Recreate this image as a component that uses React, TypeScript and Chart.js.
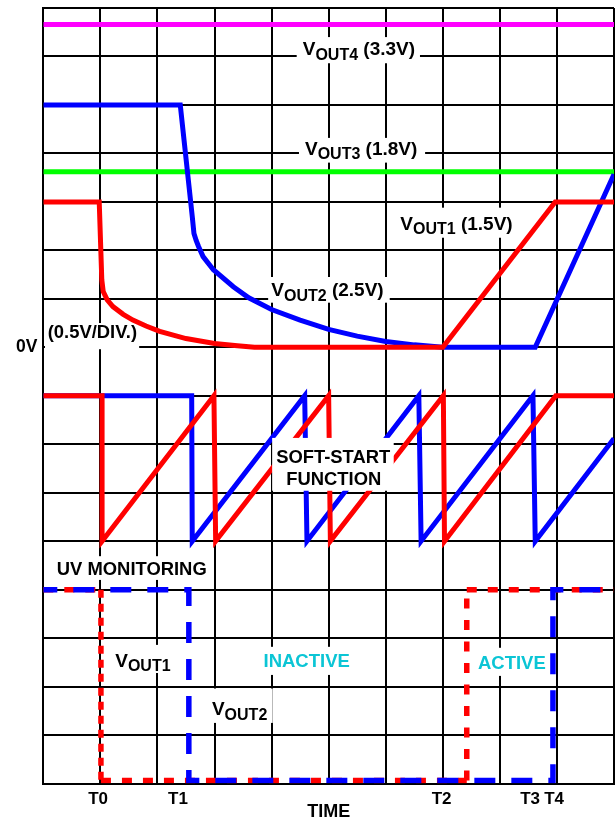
import { useEffect, useRef } from 'react';
import { Chart, registerables } from 'chart.js';

Chart.register(...registerables);

// x: time in grid divisions (0..10); y: screen divisions from the bottom (0..16).
// Voltage traces: 0V at division 9, 0.5V/div.  Soft-start: 5..8.  UV monitoring: 0..4.
const vout4X = [0, 10];
const vout4Y = [15.66, 15.66];
const vout3X = [0, 10];
const vout3Y = [12.62, 12.62];
const vout2X = [0, 2.4, 2.61, 2.64, 2.68, 2.72, 2.8, 2.98, 3.33, 3.6, 4.0, 4.5, 5.0, 5.5, 6.0, 6.5, 7.0, 8.62, 10];
const vout2Y = [14, 14, 11.7, 11.35, 11.2, 11.08, 10.87, 10.6, 10.25, 10.02, 9.78, 9.56, 9.37, 9.23, 9.12, 9.05, 9.0, 9.0, 12.57];
const vout1X = [0, 0.98, 1.025, 1.05, 1.12, 1.22, 1.4, 1.57, 1.8, 2.04, 2.5, 3.0, 3.4, 3.7, 7.0, 8.97, 10];
const vout1Y = [12, 12, 10.39, 10.15, 9.98, 9.84, 9.68, 9.56, 9.44, 9.33, 9.18, 9.08, 9.03, 9.0, 9.0, 12, 12];
const ss1X = [0, 1.03, 1.03, 2.99, 3.02, 5.0, 5.03, 7.01, 7.03, 8.98, 10];
const ss1Y = [8, 8, 5, 8, 5, 8, 5, 8, 5, 8, 8];
const ss2X = [0, 2.6, 2.61, 4.58, 4.62, 6.58, 6.62, 8.58, 8.62, 10];
const ss2Y = [8, 8, 5, 8, 5, 8, 5, 8, 5, 7.12];
const uv1X = [0, 1.01, 1.01, 7.42, 7.42, 10];
const uv1Y = [4, 4, 0.06, 0.06, 4, 4];
const uv2X = [0, 2.55, 2.55, 8.93, 8.93, 10];
const uv2Y = [4, 4, 0.06, 0.06, 4, 4];

const timeTickValues = [0.96, 2.36, 6.98, 8.53, 8.95];
const timeTickLabels = ['T0', 'T1', 'T2', 'T3', 'T4'];
const zeroVoltTick = 9;

const FAMILY = "'Liberation Sans', Arial, Helvetica, sans-serif";
const CYAN = '#0BC5D5';

type Part = [string, number];
const labelTexts: { parts: Part[]; x: number; y: number; size?: number; color?: string; above?: boolean }[] = [
  { parts: [['V', 0], ['OUT4', 1], [' (3.3V)', 0]], x: 5.53, y: 15.03 },
  { parts: [['V', 0], ['OUT3', 1], [' (1.8V)', 0]], x: 5.57, y: 12.97 },
  { parts: [['V', 0], ['OUT1', 1], [' (1.5V)', 0]], x: 7.24, y: 11.42 },
  { parts: [['V', 0], ['OUT2', 1], [' (2.5V)', 0]], x: 4.98, y: 10.05 },
  { parts: [['(0.5V/DIV.)', 0]], x: 0.86, y: 9.2, size: 18.4 },
  { parts: [['SOFT-START', 0]], x: 5.08, y: 6.61, size: 18.4, above: true },
  { parts: [['FUNCTION', 0]], x: 5.09, y: 6.16, size: 18.4, above: true },
  { parts: [['UV MONITORING', 0]], x: 1.55, y: 4.3, size: 18.4 },
  { parts: [['V', 0], ['OUT1', 1]], x: 1.745, y: 2.41 },
  { parts: [['V', 0], ['OUT2', 1]], x: 3.44, y: 1.41 },
  { parts: [['INACTIVE', 0]], x: 4.615, y: 2.41, size: 18.5, color: CYAN },
  { parts: [['ACTIVE', 0]], x: 8.21, y: 2.37, size: 18.5, color: CYAN },
];

const labelBoxes: { x0: number; x1: number; y0: number; y1: number; above?: boolean }[] = [
  { x0: 4.44, x1: 6.6, y0: 14.86, y1: 15.4 },
  { x0: 4.48, x1: 6.69, y0: 12.81, y1: 13.32 },
  { x0: 6.16, x1: 8.35, y0: 11.26, y1: 11.88 },
  { x0: 3.94, x1: 6.07, y0: 9.92, y1: 10.45 },
  { x0: 0.03, x1: 1.68, y0: 8.96, y1: 9.5 },
  { x0: 4.01, x1: 6.14, y0: 6.04, y1: 7.13, above: true },
  { x0: 0.12, x1: 2.92, y0: 4.2, y1: 4.69 },
  { x0: 1.17, x1: 2.33, y0: 2.28, y1: 2.86 },
  { x0: 2.87, x1: 4.02, y0: 1.25, y1: 1.96 },
  { x0: 3.8, x1: 5.48, y0: 2.24, y1: 2.82 },
  { x0: 7.53, x1: 8.88, y0: 2.22, y1: 2.8 },
];

const pts = (xs: number[], ys: number[]) => xs.map((x, i) => ({ x, y: ys[i] }));
const isInt = (v: number) => Math.abs(v - Math.round(v)) < 1e-6;

function drawLabels(chart: any, above: boolean) {
  const { ctx } = chart;
  const xs = chart.scales.x;
  const ys = chart.scales.y;
  ctx.save();
  ctx.fillStyle = '#fff';
  for (const b of labelBoxes) {
    if (!!b.above !== above) continue;
    const x0 = xs.getPixelForValue(b.x0);
    const x1 = xs.getPixelForValue(b.x1);
    const y0 = ys.getPixelForValue(b.y1);
    const y1 = ys.getPixelForValue(b.y0);
    ctx.fillRect(x0, y0, x1 - x0, y1 - y0);
  }
  ctx.textBaseline = 'alphabetic';
  ctx.textAlign = 'left';
  for (const t of labelTexts) {
    if (!!t.above !== above) continue;
    const main = t.size ?? 19;
    const sub = 16;
    const widths: number[] = [];
    let total = 0;
    for (const [s, isSub] of t.parts) {
      ctx.font = `bold ${isSub ? sub : main}px ${FAMILY}`;
      const w = ctx.measureText(s).width;
      widths.push(w);
      total += w;
    }
    let px = xs.getPixelForValue(t.x) - total / 2;
    const py = ys.getPixelForValue(t.y);
    ctx.fillStyle = t.color ?? '#000';
    t.parts.forEach(([s, isSub], i) => {
      ctx.font = `bold ${isSub ? sub : main}px ${FAMILY}`;
      ctx.fillText(s, px, py + (isSub ? 4.5 : 0));
      px += widths[i];
    });
  }
  ctx.restore();
}

const labelPlugin = {
  id: 'diagramLabels',
  beforeDatasetsDraw(chart: any) {
    drawLabels(chart, false);
  },
  afterDatasetsDraw(chart: any) {
    drawLabels(chart, true);
  },
};

const solid = (data: any, color: string, order: number) => ({
  data,
  borderColor: color,
  borderWidth: 5,
  pointRadius: 0,
  fill: false,
  tension: 0,
  order,
});

const noPad = (s: any) => {
  s.paddingTop = 0;
  s.paddingBottom = 0;
  s.paddingLeft = 0;
  s.paddingRight = 0;
};

export default function App() {
  const ref = useRef<HTMLCanvasElement>(null);
  useEffect(() => {
    if (!ref.current) return;
    const chart = new Chart(ref.current, {
      type: 'line',
      data: {
        datasets: [
          solid(pts(vout4X, vout4Y), '#FF00FF', 4),
          solid(pts(vout3X, vout3Y), '#00FF00', 3),
          solid(pts(vout2X, vout2Y), '#0000FF', 2),
          solid(pts(vout1X, vout1Y), '#FF0000', 1),
          solid(pts(ss2X, ss2Y), '#0000FF', 2),
          solid(pts(ss1X, ss1Y), '#FF0000', 1),
          {
            ...solid(pts(uv1X, uv1Y), '#FF0000', 1),
            borderWidth: 5.5,
            borderDash: [10, 11],
            segment: {
              borderDash: (c: any) => (c.p0DataIndex === 1 ? [8, 6] : c.p0DataIndex === 3 ? [10, 11.5] : undefined),
            },
          },
          {
            ...solid(pts(uv2X, uv2Y), '#0000FF', 0),
            borderWidth: 5.5,
            borderDash: [21, 16],
            borderDashOffset: 7,
          },
        ] as any,
      },
      options: {
        responsive: false,
        animation: false,
        devicePixelRatio: 1,
        events: [],
        layout: { padding: { top: 8, right: 2, left: 0, bottom: 0 } },
        plugins: { legend: { display: false }, tooltip: { enabled: false } },
        scales: {
          x: {
            type: 'linear',
            min: 0,
            max: 10,
            afterBuildTicks: (s: any) => {
              const vals: number[] = [];
              for (let i = 0; i <= 10; i++) vals.push(i);
              timeTickValues.forEach((v) => vals.push(v));
              vals.sort((a, b) => a - b);
              s.ticks = vals.map((value) => ({ value }));
            },
            afterFit: (s: any) => {
              s.height = 37.5;
              noPad(s);
            },
            ticks: {
              autoSkip: false,
              maxRotation: 0,
              padding: 6,
              color: '#000',
              font: { family: FAMILY, size: 17, weight: 'bold' },
              callback: (v: any) => {
                const i = timeTickValues.findIndex((t) => Math.abs(t - Number(v)) < 1e-6);
                return i >= 0 ? timeTickLabels[i] : '';
              },
            },
            grid: {
              color: (c: any) => (c.tick && isInt(c.tick.value) ? '#000' : 'rgba(0,0,0,0)'),
              lineWidth: 2,
              drawTicks: false,
            },
            border: { display: true, color: '#000', width: 2 },
            title: {
              display: true,
              text: 'TIME',
              color: '#000',
              font: { family: FAMILY, size: 18, weight: 'bold', lineHeight: 1 },
              padding: { top: 0, bottom: 0 },
            },
          },
          y: {
            type: 'linear',
            min: 0,
            max: 16,
            afterBuildTicks: (s: any) => {
              const vals: number[] = [];
              for (let i = 0; i <= 16; i++) vals.push(i);
              s.ticks = vals.map((value) => ({ value }));
            },
            afterFit: (s: any) => {
              s.width = 43.3;
              noPad(s);
            },
            ticks: {
              autoSkip: false,
              padding: 6,
              color: '#000',
              font: { family: FAMILY, size: 17.5, weight: 'bold' },
              callback: (v: any) => (Number(v) === zeroVoltTick ? '0V' : ''),
            },
            grid: { color: '#000', lineWidth: 2, drawTicks: false },
            border: { display: true, color: '#000', width: 2 },
          },
        },
      } as any,
      plugins: [labelPlugin],
    });
    return () => chart.destroy();
  }, []);
  return (
    <div style={{ position: 'fixed', left: 0, top: 0, width: 616, height: 821, background: '#fff' }}>
      <canvas ref={ref} width={616} height={821} style={{ display: 'block', width: 616, height: 821 }} />
    </div>
  );
}
